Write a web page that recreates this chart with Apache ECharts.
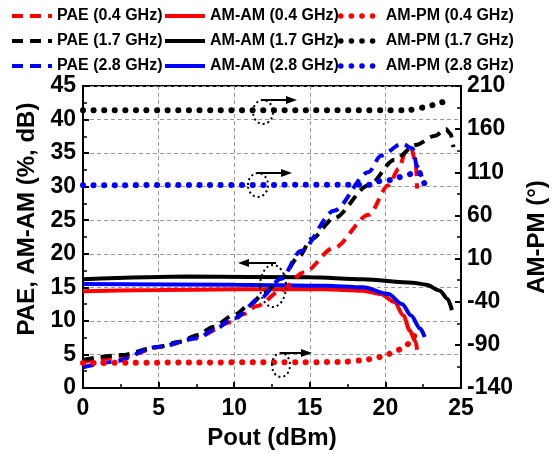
<!DOCTYPE html>
<html><head><meta charset="utf-8">
<script src="https://cdn.jsdelivr.net/npm/echarts@6/dist/echarts.min.js"></script>
<style>html,body{margin:0;padding:0;background:#fff}#c{width:559px;height:455px}</style>
</head><body><div id="c"></div>
<script>
// ---- data (Pout dBm, value) ----
const xTicks = [0, 5, 10, 15, 20, 25];
const leftTicks = [0, 5, 10, 15, 20, 25, 30, 35, 40, 45];
const rightTicks = [-140, -90, -40, 10, 60, 110, 160, 210];

const pae04 = [[0,3.9],[2.5,4.6],[5.3,6.2],[7.6,7.6],[9.8,9.8],[10.6,11.0],[11.5,12.2],[13.1,14.5],[14.6,17.2],[16.6,20.9],[18.9,25.8],[20.2,30.2],[20.9,32.7],[21.3,35.0],[21.7,35.7],[22.0,33.7],[22.1,29.7]];
const pae17 = [[0,4.2],[2.5,4.9],[4.9,6.1],[6.4,6.9],[7.6,7.9],[8.6,9.1],[10,10.9],[11.1,12.5],[12,14.2],[13.1,16.3],[14.3,19.6],[15.1,22.2],[16.6,25.3],[18.9,30.2],[20.6,34.0],[22.0,36.2],[23.3,37.6],[24.0,38.6],[24.3,37.9],[24.5,35.9]];
const pae28 = [[0,3.1],[2,3.9],[4.9,6.1],[7.6,7.4],[8.6,8.6],[10,10.4],[11.8,13.5],[13.1,16.3],[14.4,20.4],[16.6,26.4],[18.9,32.2],[19.7,34.6],[21.1,36.4],[21.8,35.7],[22.1,33.0],[22.4,31.5]];

const amam04 = [[0,14.4],[5,14.6],[10,14.7],[16,14.7],[18.5,14.5],[19.7,14.0],[20.6,12.8],[21.2,10.8],[21.6,8.6],[22.0,6.9],[22.1,5.7]];
const amam17 = [[0,16.2],[7,16.6],[15,16.5],[18.5,16.2],[21.8,15.7],[22.7,15.4],[23.6,14.5],[24.1,13.3],[24.4,11.6]];
const amam28 = [[0,15.5],[10,15.4],[16,15.25],[18.5,15.0],[20.2,14.0],[21.1,12.5],[21.7,10.8],[22.3,8.85],[22.6,7.6]];

const ampm04 = [[0,-111],[17,-110],[18.5,-108],[19.2,-106],[19.9,-103],[20.5,-99],[21.1,-94.5],[21.7,-87],[22.0,-75]];
const ampm17 = [[0,182],[21.5,182],[22.5,185],[23.2,188],[23.7,191],[24.3,197]];
const ampm28 = [[0,95],[19,95.5],[19.7,100],[20.4,101],[21.1,105],[21.7,108],[22.2,110],[22.6,96]];

const RED = '#ff0000', BLK = '#000000', BLU = '#0000ff';
const FONT = 'Liberation Sans';

function mk(name, data, color, kind, yIdx) {
  let ls;
  if (kind === 'dash') ls = {color, width: 4, type: [11, 7], cap: 'butt'};
  else if (kind === 'dot') ls = {color, width: 6, type: [0.1, 10.5], cap: 'round'};
  else ls = {color, width: 4, type: 'solid'};
  return {name, type: 'line', data, yAxisIndex: yIdx, symbol: 'none', showSymbol: false,
    smooth: 0.3, smoothMonotone: 'x', lineStyle: ls, itemStyle: {color}, z: kind === 'solid' ? 3 : 4};
}

const series = [
  mk('PAE (0.4 GHz)', pae04, RED, 'dash', 0),
  mk('PAE (1.7 GHz)', pae17, BLK, 'dash', 0),
  mk('PAE (2.8 GHz)', pae28, BLU, 'dash', 0),
  mk('AM-AM (0.4 GHz)', amam04, RED, 'solid', 0),
  mk('AM-AM (1.7 GHz)', amam17, BLK, 'solid', 0),
  mk('AM-AM (2.8 GHz)', amam28, BLU, 'solid', 0),
  mk('AM-PM (0.4 GHz)', ampm04, RED, 'dot', 1),
  mk('AM-PM (1.7 GHz)', ampm17, BLK, 'dot', 1),
  mk('AM-PM (2.8 GHz)', ampm28, BLU, 'dot', 1)
];

function legendCol(left, names, lw) {
  return {orient: 'vertical', left, top: 8, padding: 0, itemGap: 9, itemWidth: 40, itemHeight: 14,
    data: names, selectedMode: false,
    itemStyle: {opacity: 0},
    lineStyle: {width: lw},
    textStyle: {fontFamily: FONT, fontWeight: 'bold', fontSize: 16, color: '#000', lineHeight: 14}};
}

const axisCommon = {
  axisLine: {show: true, lineStyle: {color: '#000', width: 2}},
  axisTick: {show: true, inside: true, length: 6, lineStyle: {color: '#000', width: 2}},
  minorTick: {show: true, splitNumber: 2, length: 4, lineStyle: {color: '#000', width: 1.5}},
  axisLabel: {fontFamily: FONT, fontWeight: 'bold', fontSize: 23, color: '#000'},
  nameTextStyle: {fontFamily: FONT, fontWeight: 'bold', fontSize: 24, color: '#000'}
};

function ellipse(cx, cy, rx, ry) {
  return {type: 'ellipse', shape: {cx, cy, rx, ry}, z: 10,
    style: {fill: 'none', stroke: '#000', lineWidth: 2, lineDash: [2, 3]}};
}
function arrow(x1, y, x2) {
  const d = x2 > x1 ? 1 : -1;
  return [
    {type: 'line', shape: {x1, y1: y, x2: x2 - d * 9, y2: y}, z: 10, style: {stroke: '#000', lineWidth: 2}},
    {type: 'polygon', shape: {points: [[x2, y], [x2 - d * 11, y - 4], [x2 - d * 11, y + 4]]}, z: 10, style: {fill: '#000'}}
  ];
}

const option = {
  animation: false,
  backgroundColor: '#fff',
  grid: {left: 83, right: 98, top: 86, bottom: 63, show: true, borderColor: '#000', borderWidth: 2, backgroundColor: 'transparent'},
  legend: [
    legendCol(10, ['PAE (0.4 GHz)', 'PAE (1.7 GHz)', 'PAE (2.8 GHz)'], 4),
    legendCol(163, ['AM-AM (0.4 GHz)', 'AM-AM (1.7 GHz)', 'AM-AM (2.8 GHz)'], 4),
    legendCol(338, ['AM-PM (0.4 GHz)', 'AM-PM (1.7 GHz)', 'AM-PM (2.8 GHz)'], 5.5)
  ],
  xAxis: Object.assign({}, axisCommon, {
    type: 'value', min: xTicks[0], max: xTicks[xTicks.length - 1], interval: 5,
    name: 'Pout (dBm)', nameLocation: 'middle', nameGap: 38,
    axisLabel: Object.assign({}, axisCommon.axisLabel, {margin: 9}),
    splitLine: {show: true, lineStyle: {color: '#999', width: 1, type: [4, 3]}}
  }),
  yAxis: [
    Object.assign({}, axisCommon, {
      type: 'value', min: leftTicks[0], max: leftTicks[leftTicks.length - 1], interval: 5,
      name: 'PAE, AM-AM (%, dB)', nameLocation: 'middle', nameGap: 43,
      nameTextStyle: Object.assign({}, axisCommon.nameTextStyle, {padding: [0, 0, 0, 36]}),
      axisLabel: Object.assign({}, axisCommon.axisLabel, {margin: 7}),
      splitLine: {show: true, lineStyle: {color: '#999', width: 1, type: [4, 3]}}
    }),
    Object.assign({}, axisCommon, {
      type: 'value', position: 'right', min: rightTicks[0], max: rightTicks[rightTicks.length - 1], interval: 50,
      name: 'AM-PM (°)', nameLocation: 'middle', nameGap: 64, nameRotate: 90,
      axisLabel: Object.assign({}, axisCommon.axisLabel, {margin: 6}),
      splitLine: {show: false}
    })
  ],
  series,
  graphic: [
    ellipse(263, 112, 10, 12), ...arrow(262, 100, 297),
    ellipse(258, 185, 10, 12), ...arrow(257, 173, 292),
    ellipse(273, 286, 13, 21), ...arrow(276, 263, 238),
    ellipse(281, 365, 9, 12), ...arrow(280, 353, 312)
  ]
};

const chart = echarts.init(document.getElementById('c'), null, {renderer: 'canvas'});
chart.setOption(option);
</script>
</body></html>
